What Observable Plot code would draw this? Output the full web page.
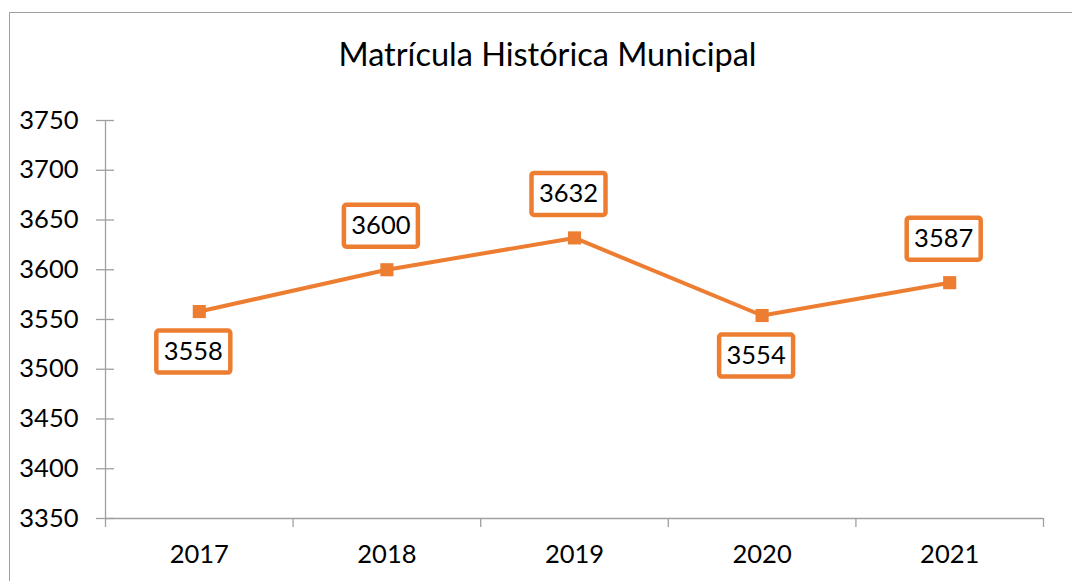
<!DOCTYPE html>
<html>
<head>
<meta charset="utf-8">
<script src="https://cdn.jsdelivr.net/npm/d3@7"></script>
<script src="https://cdn.jsdelivr.net/npm/@observablehq/plot@0.6"></script>
<style>
  html, body { margin: 0; padding: 0; background: #fff; }
  body { width: 1072px; height: 581px; overflow: hidden; position: relative; font-family: Lato, "Open Sans", sans-serif; }
  #frame { position: absolute; left: 9px; top: 12px; width: 1100px; height: 600px; border-left: 1.5px solid #a0a0a0; border-top: 1.5px solid #a0a0a0; }
  #title { position: absolute; left: 0; top: 38px; width: 1095px; text-align: center; font-size: 32.5px; line-height: 32px; color: #000; }
  #chart { position: absolute; left: 0; top: 0; }
</style>
</head>
<body>
<div id="frame"></div>
<div id="chart"></div>
<div id="title">Matrícula Histórica Municipal</div>
<script>
const years = ["2017", "2018", "2019", "2020", "2021"];
const enrollment = [3558, 3600, 3632, 3554, 3587];
const labelSide = ["below", "above", "above", "below", "above"];
const yTicks = [3350, 3400, 3450, 3500, 3550, 3600, 3650, 3700, 3750];

const orange = "#ED7D31";
const axisGray = "#a0a0a0";

const data = years.map((year, i) => ({
  pos: i + 0.5,
  year,
  value: enrollment[i],
  side: labelSide[i]
}));
const boundaries = d3.range(0, years.length + 1);

const boxW = 74, boxH = 42, rad = 2.5;
const boxSymbol = {
  draw(ctx) {
    const x0 = -boxW / 2, y0 = -boxH / 2, x1 = boxW / 2, y1 = boxH / 2;
    ctx.moveTo(x0 + rad, y0);
    ctx.lineTo(x1 - rad, y0);
    ctx.arcTo(x1, y0, x1, y0 + rad, rad);
    ctx.lineTo(x1, y1 - rad);
    ctx.arcTo(x1, y1, x1 - rad, y1, rad);
    ctx.lineTo(x0 + rad, y1);
    ctx.arcTo(x0, y1, x0, y1 - rad, rad);
    ctx.lineTo(x0, y0 + rad);
    ctx.arcTo(x0, y0, x0 + rad, y0, rad);
    ctx.closePath();
  }
};

const above = data.filter(d => d.side === "above");
const below = data.filter(d => d.side === "below");
const dAbove = -44, dBelow = 40, dxLab = -6;

const plot = Plot.plot({
  width: 1072,
  height: 581,
  marginTop: 120,
  marginBottom: 63,
  marginLeft: 105,
  marginRight: 29,
  style: { fontFamily: "Lato, 'Open Sans', sans-serif", background: "transparent" },
  x: { type: "linear", domain: [0, years.length] },
  y: { domain: [3350, 3750] },
  marks: [
    Plot.ruleX([0], { stroke: axisGray, strokeWidth: 1.3 }),
    Plot.ruleY([3350], { stroke: axisGray, strokeWidth: 1.3 }),
    Plot.axisY({ ticks: yTicks, tickSize: 9, tickPadding: 18, fontSize: 25.5, stroke: axisGray, fill: "#000", strokeWidth: 1.3, label: null, tickFormat: d => String(d) }),
    Plot.axisY({ ticks: yTicks, tickSize: 9, dx: 9, stroke: axisGray, strokeWidth: 1.3, label: null, tickFormat: () => "" }),
    Plot.axisX({ ticks: boundaries, tickSize: 9, stroke: axisGray, strokeWidth: 1.3, label: null, tickFormat: () => "" }),
    Plot.axisX({ ticks: data.map(d => d.pos), tickSize: 0, tickPadding: 26, fontSize: 25.5, fill: "#000", label: null, tickFormat: p => years[Math.round(p - 0.5)] }),
    Plot.line(data, { x: "pos", y: "value", stroke: orange, strokeWidth: 4 }),
    Plot.dot(data, { x: "pos", y: "value", symbol: "square", r: 7.4, fill: orange, stroke: "none" }),
    Plot.dot(above, { x: "pos", y: "value", symbol: boxSymbol, r: 10, fill: "#fff", stroke: orange, strokeWidth: 4.5, dx: dxLab, dy: dAbove }),
    Plot.dot(below, { x: "pos", y: "value", symbol: boxSymbol, r: 10, fill: "#fff", stroke: orange, strokeWidth: 4.5, dx: dxLab, dy: dBelow }),
    Plot.text(above, { x: "pos", y: "value", text: d => String(d.value), fontSize: 25.5, fill: "#000", dx: dxLab, dy: dAbove }),
    Plot.text(below, { x: "pos", y: "value", text: d => String(d.value), fontSize: 25.5, fill: "#000", dx: dxLab, dy: dBelow })
  ]
});
document.getElementById("chart").appendChild(plot);
</script>
</body>
</html>
